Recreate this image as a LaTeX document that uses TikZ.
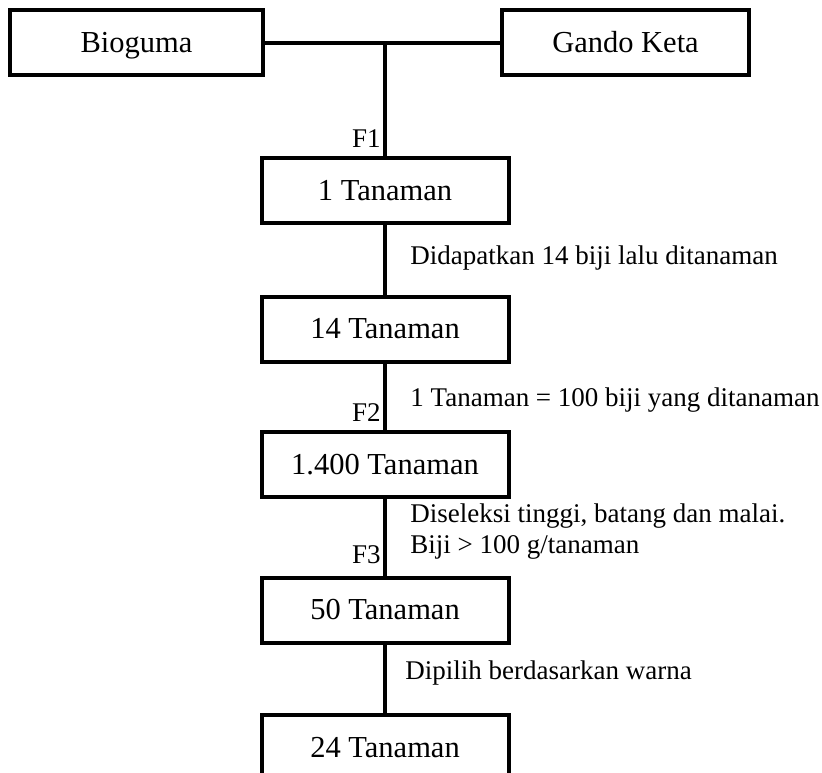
\documentclass[tikz,border=0pt]{standalone}
\usepackage{fontspec}
\setmainfont{Liberation Serif}
\usetikzlibrary{positioning}

\tikzset{
    stagebox/.style={draw, line width=2pt, minimum width=123.5pt, minimum height=32.5pt,
        inner sep=0pt, text height=11.5pt, text depth=2pt,
        font=\fontsize{15.25}{18}\selectfont},
    note/.style={inner sep=0pt, font=\fontsize{13.5}{16}\selectfont},
    link/.style={line width=2pt}
}

\begin{document}
\begin{tikzpicture}[x=0.5pt, y=-0.5pt]
    \useasboundingbox (0,0) rectangle (822,772);

    % --- Parents ---
    \node[stagebox, minimum width=126.5pt] (bioguma) at (136.5, 42.5) {Bioguma};
    \node[stagebox] (gandoketa) at (625.5, 42.5) {Gando Keta};
    \coordinate (cross) at (385, 42.5);

    % --- Generations ---
    \node[stagebox] (tan1) at (385, 190.5) {1 Tanaman};
    \node[stagebox] (tan14) at (385, 329) {14 Tanaman};
    \node[stagebox] (tan1400) at (385, 464.5) {1.400 Tanaman};
    \node[stagebox] (tan50) at (385, 610) {50 Tanaman};
    \node[stagebox] (tan24) at (385, 747.5) {24 Tanaman};

    % --- Connectors ---
    \draw[link] (bioguma) -- (gandoketa);
    \draw[link] (cross) -- (tan1);
    \draw[link] (tan1) -- (tan14);
    \draw[link] (tan14) -- (tan1400);
    \draw[link] (tan1400) -- (tan50);
    \draw[link] (tan50) -- (tan24);

    % --- Generation labels ---
    \node[note, anchor=east] (f1) at (381, 139) {F1};
    \node[note, anchor=east] (f2) at (381, 413) {F2};
    \node[note, anchor=east] (f3) at (381, 555) {F3};

    % --- Notes ---
    \node[note, anchor=west] (n1) at (410, 258) {Didapatkan 14 biji lalu ditanaman};
    \node[note, anchor=west] (n2) at (410, 400) {1 Tanaman = 100 biji yang ditanaman};
    \node[note, anchor=west] (n3) at (410, 516) {Diseleksi tinggi, batang dan malai.};
    \node[note, anchor=west] (n4) at (410, 547) {Biji > 100 g/tanaman};
    \node[note, anchor=west] (n5) at (405, 673) {Dipilih berdasarkan warna};

\end{tikzpicture}
\end{document}
